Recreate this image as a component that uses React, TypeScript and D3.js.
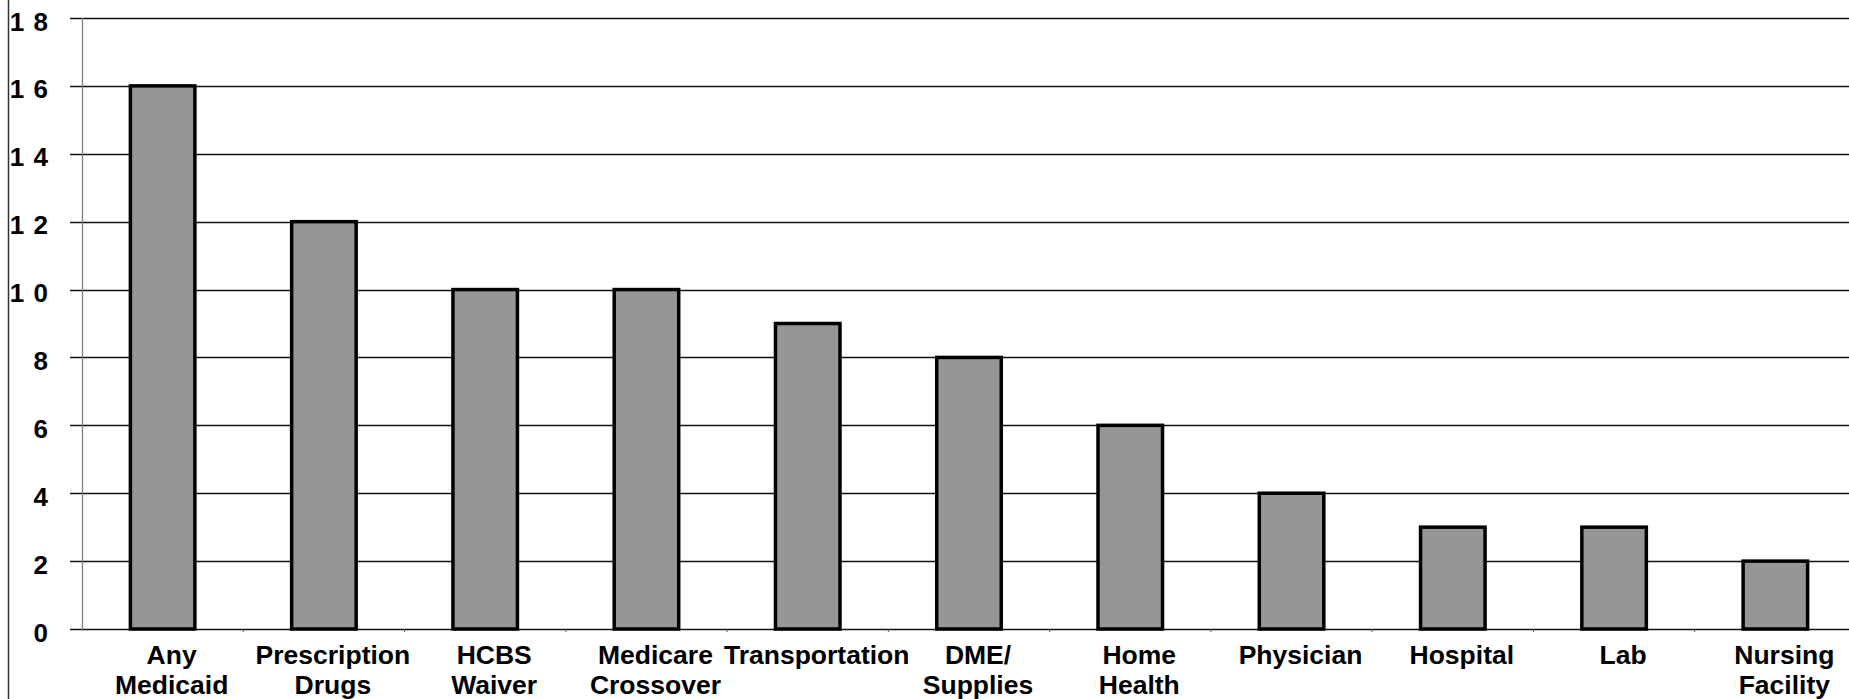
import React from "react";
import * as d3 from "d3";

const categories: string[][] = [
  ["Any", "Medicaid"],
  ["Prescription", "Drugs"],
  ["HCBS", "Waiver"],
  ["Medicare", "Crossover"],
  ["Transportation"],
  ["DME/", "Supplies"],
  ["Home", "Health"],
  ["Physician"],
  ["Hospital"],
  ["Lab"],
  ["Nursing", "Facility"],
];
const values: number[] = [16, 12, 10, 10, 9, 8, 6, 4, 3, 3, 2];
const yTicks: number[] = [0, 2, 4, 6, 8, 10, 12, 14, 16, 18];

const W = 1849;
const H = 699;

export default function App() {
  const keys = categories.map((c) => c.join(" "));
  const x = d3
    .scaleBand<string>()
    .domain(keys)
    .range([82, 1856])
    .paddingInner(0.6)
    .paddingOuter(0.3);
  const step = x.step();
  const y = d3.scaleLinear().domain([0, 18]).range([629, 18]);
  const font = "'Liberation Sans', Arial, Helvetica, sans-serif";
  const fmt = (d: number) => String(d).split("").join(" ");

  return (
    <div style={{ position: "absolute", left: 0, top: 0 }}>
      <svg width={W} height={H} style={{ display: "block", background: "#fff" }}>
        <rect x={0} y={0} width={W} height={H} fill="#fff" />
        {/* left border */}
        <line x1={8.5} x2={8.5} y1={0} y2={H} stroke="#333" strokeWidth={1.5} />
        {/* gridlines */}
        {yTicks.map((t) => (
          <line
            key={"g" + t}
            x1={70}
            x2={W}
            y1={Math.round(y(t)) + 0.5}
            y2={Math.round(y(t)) + 0.5}
            stroke="#111"
            strokeWidth={1.5}
          />
        ))}
        {/* y axis line */}
        <line x1={82.5} x2={82.5} y1={y(18)} y2={y(0) + 2} stroke="#808080" strokeWidth={1.3} />
        {/* category tick marks */}
        {keys.map((k, i) => (
          <line
            key={"t" + i}
            x1={82 + (i + 1) * step}
            x2={82 + (i + 1) * step}
            y1={y(0)}
            y2={y(0) + 3}
            stroke="#555"
            strokeWidth={1}
          />
        ))}
        {/* y tick labels */}
        {yTicks.map((t) => (
          <text
            key={"l" + t}
            x={49}
            y={y(t) + 12.5}
            textAnchor="end"
            fontFamily={font}
            fontWeight="bold"
            fontSize={26}
            letterSpacing={1}
            fill="#000"
          >
            {fmt(t)}
          </text>
        ))}
        {/* bars */}
        {values.map((v, i) => (
          <rect
            key={"b" + i}
            x={x(keys[i])!}
            y={y(v)}
            width={x.bandwidth()}
            height={y(0) - y(v)}
            fill="#969696"
            stroke="#000"
            strokeWidth={3.5}
          />
        ))}
        {/* category labels */}
        {categories.map((lines, i) => (
          <text
            key={"c" + i}
            x={x(keys[i])! + x.bandwidth() / 2 + 9}
            y={664}
            textAnchor="middle"
            fontFamily={font}
            fontWeight="bold"
            fontSize={26.5}
            fill="#000"
          >
            {lines.map((ln, j) => (
              <tspan key={j} x={x(keys[i])! + x.bandwidth() / 2 + 9} y={664 + j * 30}>
                {ln}
              </tspan>
            ))}
          </text>
        ))}
      </svg>
    </div>
  );
}
